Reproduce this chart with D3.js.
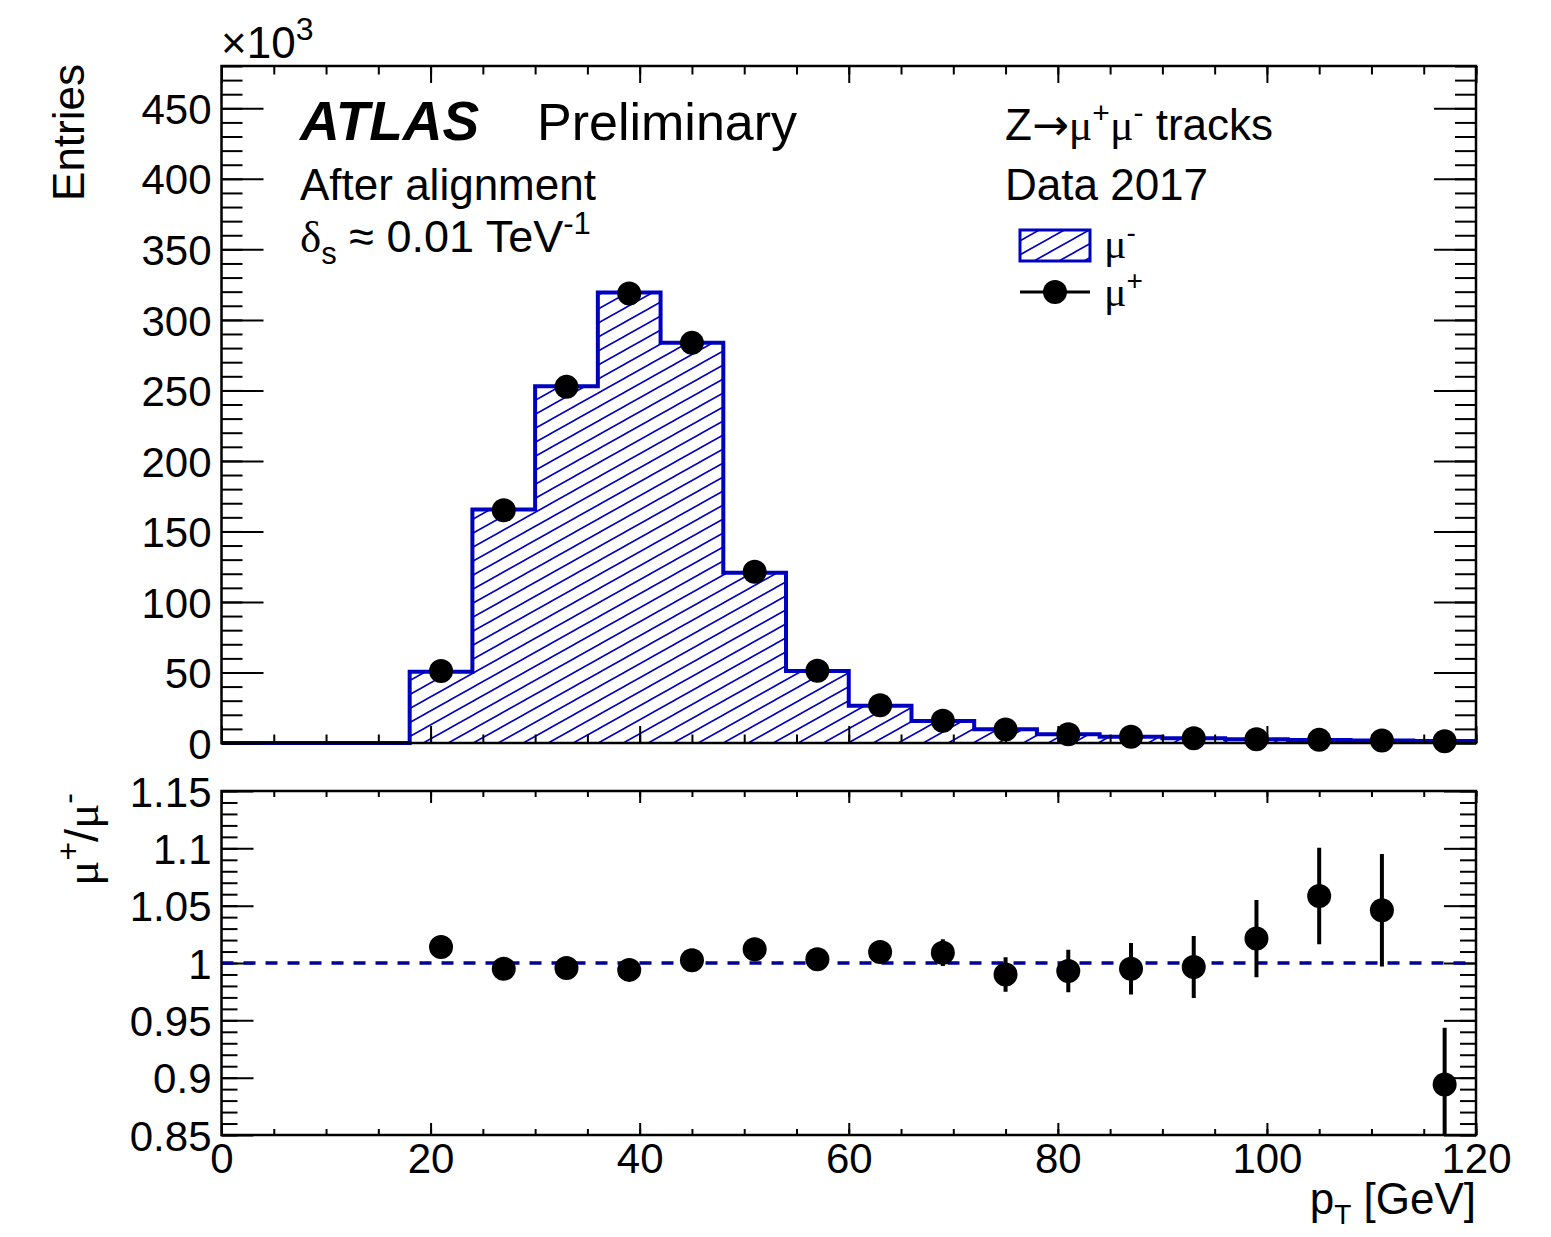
<!DOCTYPE html>
<html><head><meta charset="utf-8">
<script src="https://cdn.jsdelivr.net/npm/d3@7"></script>
<style>body{margin:0;background:#fff}svg{display:block}text{font-family:"Liberation Sans",Arial,Helvetica,sans-serif;fill:#000}</style>
</head><body>
<svg id="c" width="1551" height="1237"></svg>
<script>
// ---- data ----
const binLow  = [0,6,12,18,24,30,36,42,48,54,60,66,72,78,84,90,96,102,108,114];
const binHigh = [6,12,18,24,30,36,42,48,54,60,66,72,78,84,90,96,102,108,114,120];
const muMinus = [0,0,0,50.5,165.6,253,319.4,283.7,120.7,51,26.4,15.6,9.7,6.2,4.5,3.3,2.6,2.1,1.7,1.4]; // x10^3
const ptCenters = [21,27,33,39,45,51,57,63,69,75,81,87,93,99,105,111,117];
const muPlus  = [51,165,252.5,318.7,283.7,121.4,51.2,26.7,15.7,9.6,6.15,4.48,3.29,2.65,2.22,1.78,1.25];
const ratio   = [1.014,0.995,0.9956,0.994,1.0024,1.012,1.0032,1.0096,1.009,0.990,0.993,0.995,0.9965,1.0213,1.0584,1.046,0.894];
const ratioErr= [0.002,0.002,0.002,0.002,0.002,0.003,0.005,0.008,0.0117,0.015,0.0185,0.0225,0.027,0.0337,0.042,0.049,0.0495];
const xTicks = [0,20,40,60,80,100,120];
const yTopTicks = [0,50,100,150,200,250,300,350,400,450];
const yRatioTicks = [0.85,0.9,0.95,1,1.05,1.1,1.15];

const svg = d3.select("#c");
const L=221.5, R=1476, T1=66, B1=743, T2=791, B2=1135;
const x = d3.scaleLinear().domain([0,120]).range([L,R]);
const yT = d3.scaleLinear().domain([0,480]).range([B1,T1]);
const yR = d3.scaleLinear().domain([0.85,1.15]).range([B2,T2]);
const blue="#0000c0", dblue="#000099";

const defs = svg.append("defs");
const pat = defs.append("pattern").attr("id","hatch").attr("patternUnits","userSpaceOnUse")
  .attr("width",25).attr("height",14);
pat.append("path").attr("d","M-25,14 L25,-14 M0,14 L25,0 M0,28 L50,0 M-25,28 L25,0")
  .attr("stroke",blue).attr("stroke-width",1.6).attr("fill","none");
defs.append("clipPath").attr("id","clipR").append("rect").attr("x",L).attr("y",T2).attr("width",R-L).attr("height",B2-T2);

const bins = binLow.map((lo,i)=>({lo,hi:binHigh[i],v:muMinus[i]}));
const areaPts=[];
bins.forEach(b=>{areaPts.push([x(b.lo),yT(b.v)]);areaPts.push([x(b.hi),yT(b.v)]);});
const areaPath = "M"+x(0)+","+yT(0)+" L"+areaPts.map(p=>p.join(",")).join(" L")+" L"+x(120)+","+yT(0)+"Z";
svg.append("path").attr("d",areaPath).attr("fill","url(#hatch)").attr("stroke","none");
svg.append("path").attr("d",d3.line()(areaPts)).attr("fill","none").attr("stroke",blue).attr("stroke-width",4);

function ax(g, gen){ g.call(gen); g.select(".domain").remove(); g.selectAll("line").attr("stroke","#000").attr("stroke-width",2);
  g.selectAll("text").style("font-size","42px").style("font-family","Liberation Sans, Arial, sans-serif"); return g;}
const minorX = d3.range(0,121,5), minorYT = d3.range(0,481,10), minorYR = d3.range(85,116,1).map(v=>v/100);

// top panel ticks
ax(svg.append("g").attr("transform",`translate(0,${B1})`), d3.axisBottom(x).tickValues(minorX).tickSize(-8.5).tickFormat(""));
ax(svg.append("g").attr("transform",`translate(0,${B1})`), d3.axisBottom(x).tickValues(xTicks).tickSize(-17).tickFormat(""));
ax(svg.append("g").attr("transform",`translate(0,${T1})`), d3.axisTop(x).tickValues(minorX).tickSize(-8.5).tickFormat(""));
ax(svg.append("g").attr("transform",`translate(0,${T1})`), d3.axisTop(x).tickValues(xTicks).tickSize(-17).tickFormat(""));
ax(svg.append("g").attr("transform",`translate(${L},0)`), d3.axisLeft(yT).tickValues(minorYT).tickSize(-21).tickFormat(""));
ax(svg.append("g").attr("transform",`translate(${L},0)`), d3.axisLeft(yT).tickValues(yTopTicks).tickSize(-42).tickPadding(10).tickFormat(d3.format("d")))
  .selectAll("text").attr("dy","0.36em");
ax(svg.append("g").attr("transform",`translate(${R},0)`), d3.axisRight(yT).tickValues(minorYT).tickSize(-21).tickFormat(""));
ax(svg.append("g").attr("transform",`translate(${R},0)`), d3.axisRight(yT).tickValues(yTopTicks).tickSize(-42).tickFormat(""));
svg.append("rect").attr("x",L).attr("y",T1).attr("width",R-L).attr("height",B1-T1).attr("fill","none").attr("stroke","#000").attr("stroke-width",2.5);

svg.append("g").selectAll("circle").data(ptCenters).join("circle")
  .attr("cx",d=>x(d)).attr("cy",(d,i)=>yT(muPlus[i])).attr("r",12).attr("fill","#000");

// ---- ratio panel ----
ax(svg.append("g").attr("transform",`translate(0,${B2})`), d3.axisBottom(x).tickValues(minorX).tickSize(-6).tickFormat(""));
ax(svg.append("g").attr("transform",`translate(0,${B2})`), d3.axisBottom(x).tickValues(xTicks).tickSize(-12).tickPadding(8).tickFormat(d3.format("d")))
  .selectAll("text").attr("dy","0.72em");
ax(svg.append("g").attr("transform",`translate(0,${T2})`), d3.axisTop(x).tickValues(minorX).tickSize(-6).tickFormat(""));
ax(svg.append("g").attr("transform",`translate(0,${T2})`), d3.axisTop(x).tickValues(xTicks).tickSize(-12).tickFormat(""));
ax(svg.append("g").attr("transform",`translate(${L},0)`), d3.axisLeft(yR).tickValues(minorYR).tickSize(-16).tickFormat(""));
ax(svg.append("g").attr("transform",`translate(${L},0)`), d3.axisLeft(yR).tickValues(yRatioTicks).tickSize(-32).tickPadding(10).tickFormat(d=>d3.format("")(+d.toFixed(2))))
  .selectAll("text").attr("dy","0.36em");
ax(svg.append("g").attr("transform",`translate(${R},0)`), d3.axisRight(yR).tickValues(minorYR).tickSize(-16).tickFormat(""));
ax(svg.append("g").attr("transform",`translate(${R},0)`), d3.axisRight(yR).tickValues(yRatioTicks).tickSize(-32).tickFormat(""));

svg.append("line").attr("x1",L).attr("x2",R).attr("y1",yR(1)).attr("y2",yR(1))
  .attr("stroke",dblue).attr("stroke-width",3.5).attr("stroke-dasharray","12,10");
const rg = svg.append("g").attr("clip-path","url(#clipR)");
rg.selectAll("line.err").data(ptCenters).join("line").attr("class","err")
  .attr("x1",d=>x(d)).attr("x2",d=>x(d))
  .attr("y1",(d,i)=>yR(ratio[i]-ratioErr[i])).attr("y2",(d,i)=>yR(ratio[i]+ratioErr[i]))
  .attr("stroke","#000").attr("stroke-width",4);
rg.selectAll("circle").data(ptCenters).join("circle")
  .attr("cx",d=>x(d)).attr("cy",(d,i)=>yR(ratio[i])).attr("r",12).attr("fill","#000");
svg.append("rect").attr("x",L).attr("y",T2).attr("width",R-L).attr("height",B2-T2).attr("fill","none").attr("stroke","#000").attr("stroke-width",2.5);

// ---- texts ----
const serif = "Liberation Serif, DejaVu Serif, serif";
function txt(xp,yp,size){return svg.append("text").attr("x",xp).attr("y",yp).style("font-size",size+"px");}
let t = txt(221,58,44); t.append("tspan").text("×10"); t.append("tspan").attr("dy",-18).style("font-size","32px").text("3");
svg.append("text").attr("transform","translate(84,64) rotate(-90)").attr("text-anchor","end").style("font-size","44px").text("Entries");
t = svg.append("text").attr("transform","translate(98,793) rotate(-90)").attr("text-anchor","end").style("font-size","47px");
t.append("tspan").style("font-family",serif).text("μ");
t.append("tspan").attr("dy",-19).style("font-size","32px").text("+");
t.append("tspan").attr("dy",19).text("/");
t.append("tspan").style("font-family",serif).text("μ");
t.append("tspan").attr("dy",-19).style("font-size","32px").text("-");
t = svg.append("text").attr("x",1476).attr("y",1214).attr("text-anchor","end").style("font-size","44px");
t.append("tspan").text("p");
t.append("tspan").attr("dy",10).style("font-size","28px").text("T");
t.append("tspan").attr("dy",-10).text(" [GeV]");

txt(300,140,55).style("font-weight","bold").style("font-style","italic").text("ATLAS");
txt(537,140,52).text("Preliminary");
txt(300,200,44).text("After alignment");
t = txt(300,252,45);
t.append("tspan").style("font-family",serif).text("δ");
t.append("tspan").attr("dy",12).style("font-size","31px").text("s");
t.append("tspan").attr("dy",-12).text(" ≈ 0.01 TeV");
t.append("tspan").attr("dy",-18).style("font-size","31px").text("-1");

t = txt(1005,140,44);
t.append("tspan").text("Z");
t.append("tspan").style("font-family","DejaVu Sans, sans-serif").text("→");
t.append("tspan").style("font-family",serif).text("μ");
t.append("tspan").attr("dy",-17).style("font-size","30px").text("+");
t.append("tspan").attr("dy",17).style("font-family",serif).text("μ");
t.append("tspan").attr("dy",-17).style("font-size","30px").text("-");
t.append("tspan").attr("dy",17).text(" tracks");
txt(1005,200,44).text("Data 2017");

// legend
svg.append("rect").attr("x",1020).attr("y",230).attr("width",70).attr("height",31).attr("fill","url(#hatch)").attr("stroke",blue).attr("stroke-width",3);
t = txt(1104,258,42); t.append("tspan").style("font-family",serif).text("μ"); t.append("tspan").attr("dy",-16).style("font-size","28px").text("-");
svg.append("line").attr("x1",1020).attr("x2",1090).attr("y1",292).attr("y2",292).attr("stroke","#000").attr("stroke-width",3);
svg.append("circle").attr("cx",1055).attr("cy",292).attr("r",12).attr("fill","#000");
t = txt(1104,306,42); t.append("tspan").style("font-family",serif).text("μ"); t.append("tspan").attr("dy",-16).style("font-size","28px").text("+");
</script>
</body></html>
